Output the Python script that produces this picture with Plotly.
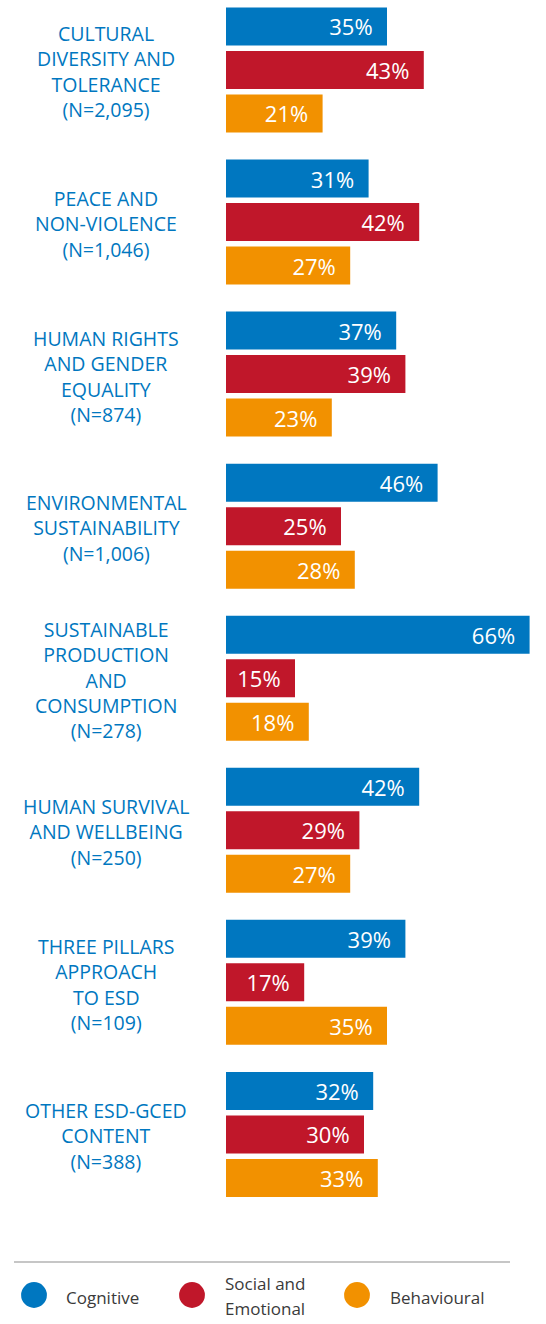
import plotly.graph_objects as go

# topic labels (line breaks as in the original) and sample sizes
topics = [
    "CULTURAL<br>DIVERSITY AND<br>TOLERANCE",
    "PEACE AND<br>NON-VIOLENCE",
    "HUMAN RIGHTS<br>AND GENDER<br>EQUALITY",
    "ENVIRONMENTAL<br>SUSTAINABILITY",
    "SUSTAINABLE<br>PRODUCTION<br>AND<br>CONSUMPTION",
    "HUMAN SURVIVAL<br>AND WELLBEING",
    "THREE PILLARS<br>APPROACH<br>TO ESD",
    "OTHER ESD-GCED<br>CONTENT",
]
sample_sizes = ["2,095", "1,046", "874", "1,006", "278", "250", "109", "388"]

cognitive = [35, 31, 37, 46, 66, 42, 39, 32]
social_emotional = [43, 42, 39, 25, 15, 29, 17, 30]
behavioural = [21, 27, 23, 28, 18, 27, 35, 33]

series_names = ["Cognitive", "Social and Emotional", "Behavioural"]
series_colors = ["#0077c0", "#c0172a", "#f29100"]

W, H = 546, 1324
ML, MB = 226, 109
PW, PH = W - ML, H - MB


def px_x(px):
    return (px - ML) / PW


def px_y(py):
    return (PH - py) / PH


labels = [f"{t}<br>(N={n})" for t, n in zip(topics, sample_sizes)]

fig = go.Figure()
for name, vals, col in zip(series_names, [cognitive, social_emotional, behavioural], series_colors):
    fig.add_trace(go.Bar(
        y=labels,
        x=vals,
        name=name,
        orientation="h",
        marker=dict(color=col, line_width=0),
        texttemplate="%{x}%\u00a0\u00a0",
        textposition="inside",
        insidetextanchor="end",
        textfont=dict(family="Open Sans", size=22, color="white"),
        showlegend=False,
        hoverinfo="skip",
    ))

# category labels on the left
annotations = []
for lab in labels:
    annotations.append(dict(
        x=px_x(106), xref="paper", y=lab, yref="y",
        text=lab, showarrow=False, xanchor="center", yanchor="middle", align="center",
        yshift=-2,
        font=dict(family="Open Sans", size=19.5, color="#0077c0"),
    ))

# legend drawn by hand: circles and text
shapes = [dict(type="line", xref="paper", yref="paper",
               x0=px_x(14), x1=px_x(510), y0=px_y(1262), y1=px_y(1262),
               line=dict(color="#b3b3b3", width=1.5))]
legend_cx = [34, 192, 357]
legend_tx = [64, 223, 388]
for cx, col in zip(legend_cx, series_colors):
    r = 12.9
    shapes.append(dict(type="circle", xref="paper", yref="paper",
                       x0=px_x(cx - r), x1=px_x(cx + r), y0=px_y(1295 + r), y1=px_y(1295 - r),
                       fillcolor=col, line_width=0))
legend_lines = [["Cognitive"], ["Social and", "Emotional"], ["Behavioural"]]
for tx, lines in zip(legend_tx, legend_lines):
    ys = [1297] if len(lines) == 1 else [1283, 1308]
    for line, ty in zip(lines, ys):
        annotations.append(dict(
            x=px_x(tx), xref="paper", y=px_y(ty), yref="paper",
            text=line, showarrow=False, xanchor="left", yanchor="middle",
            font=dict(family="Open Sans", size=17, color="#3a3a3a"),
        ))

fig.update_layout(
    width=W, height=H,
    margin=dict(l=ML, r=0, t=0, b=MB),
    barmode="group",
    bargap=0.142,
    bargroupgap=0.126,
    plot_bgcolor="white",
    paper_bgcolor="white",
    xaxis=dict(range=[0, PW / 4.6], visible=False, fixedrange=True),
    yaxis=dict(range=[7.53, -0.46], showticklabels=False, showgrid=False,
               zeroline=False, fixedrange=True),
    uniformtext=dict(minsize=22, mode="show"),
    annotations=annotations,
    shapes=shapes,
)

# page body has a default 8px margin; drop it so the figure sits at the corner
fig.write_html("out.html", config={"displayModeBar": False},
               post_script="document.body.style.margin='0';")
